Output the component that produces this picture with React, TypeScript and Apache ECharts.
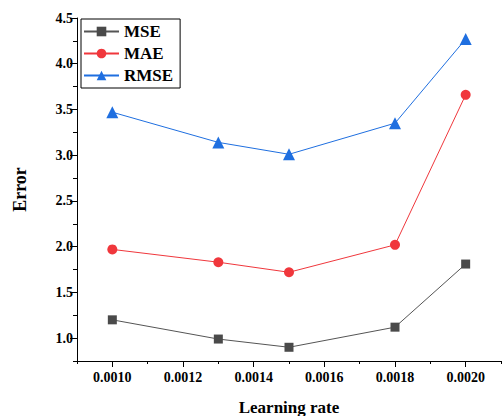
import React, { useEffect, useRef } from "react";
import * as echarts from "echarts";

const learningRates = [0.001, 0.0013, 0.0015, 0.0018, 0.002];
const mseValues = [1.2, 0.99, 0.9, 1.12, 1.81];
const maeValues = [1.97, 1.83, 1.72, 2.02, 3.66];
const rmseValues = [3.47, 3.14, 3.01, 3.35, 4.27];
const xMajorTicks = [0.001, 0.0012, 0.0014, 0.0016, 0.0018, 0.002];
const xMinorTicks = [0.0009, 0.0011, 0.0013, 0.0015, 0.0017, 0.0019, 0.0021];
const yMajorTicks = [1.0, 1.5, 2.0, 2.5, 3.0, 3.5, 4.0, 4.5];
const yMinorTicks = [0.75, 1.25, 1.75, 2.25, 2.75, 3.25, 3.75, 4.25];

const FONT = "'Liberation Serif', 'Times New Roman', serif";

export default function App() {
  const ref = useRef<HTMLDivElement>(null);
  useEffect(() => {
    if (!ref.current) return;
    const chart = echarts.init(ref.current, undefined, { renderer: "svg" });
    const pair = (vals: number[]) => learningRates.map((x, i) => [x, vals[i]]);
    chart.setOption({
      animation: false,
      backgroundColor: "#ffffff",
      grid: { left: 77, top: 18, right: 2, bottom: 55, containLabel: false, outerBoundsMode: "none" },
      legend: {
        orient: "vertical",
        left: 81,
        top: 19,
        itemWidth: 35,
        itemHeight: 12,
        itemGap: 5,
        padding: [4, 7, 4, 2],
        borderColor: "#000",
        borderWidth: 1,
        textStyle: { fontFamily: FONT, fontWeight: "bold", fontSize: 17, color: "#000" },
        data: ["MSE", "MAE", "RMSE"],
      },
      xAxis: [
        {
          type: "value",
          min: 0.0009,
          max: 0.0021,
          name: "Learning rate",
          nameLocation: "middle",
          nameGap: 38,
          nameTextStyle: { fontFamily: FONT, fontWeight: "bold", fontSize: 17, color: "#000" },
          axisLine: { show: true, lineStyle: { color: "#000", width: 1 } },
          axisTick: { show: true, customValues: xMajorTicks, length: 6, lineStyle: { color: "#000" } },
          axisLabel: {
            customValues: xMajorTicks,
            formatter: (v: number) => v.toFixed(4),
            fontFamily: FONT,
            fontWeight: "bold",
            fontSize: 14,
            color: "#000",
            margin: 9,
          },
          splitLine: { show: false },
        },
        {
          type: "value",
          min: 0.0009,
          max: 0.0021,
          position: "bottom",
          axisLine: { show: false },
          axisTick: { show: true, customValues: xMinorTicks, length: 3, lineStyle: { color: "#000" } },
          axisLabel: { show: false },
          splitLine: { show: false },
        },
      ],
      yAxis: [
        {
          type: "value",
          min: 0.75,
          max: 4.5,
          name: "Error",
          nameLocation: "middle",
          nameGap: 48,
          nameRotate: 90,
          nameTextStyle: { fontFamily: FONT, fontWeight: "bold", fontSize: 18, color: "#000" },
          axisLine: { show: true, lineStyle: { color: "#000", width: 1 } },
          axisTick: { show: true, customValues: yMajorTicks, length: 7, lineStyle: { color: "#000" } },
          axisLabel: {
            customValues: yMajorTicks,
            formatter: (v: number) => v.toFixed(1),
            fontFamily: FONT,
            fontWeight: "bold",
            fontSize: 14,
            color: "#000",
            margin: 4,
          },
          splitLine: { show: false },
        },
        {
          type: "value",
          min: 0.75,
          max: 4.5,
          position: "left",
          axisLine: { show: false },
          axisTick: { show: true, customValues: yMinorTicks, length: 4, lineStyle: { color: "#000" } },
          axisLabel: { show: false },
          splitLine: { show: false },
        },
      ],
      series: [
        {
          name: "MSE",
          type: "line",
          data: pair(mseValues),
          symbol: "rect",
          symbolSize: 9,
          color: "#4a4a4a",
          lineStyle: { width: 1, color: "#555" },
          itemStyle: { color: "#4a4a4a" },
        },
        {
          name: "MAE",
          type: "line",
          data: pair(maeValues),
          symbol: "circle",
          symbolSize: 10,
          color: "#f0373c",
          lineStyle: { width: 1, color: "#f0373c" },
          itemStyle: { color: "#f0373c" },
        },
        {
          name: "RMSE",
          type: "line",
          data: pair(rmseValues),
          symbol: "triangle",
          symbolSize: 12,
          color: "#1f6fe0",
          lineStyle: { width: 1, color: "#1f6fe0" },
          itemStyle: { color: "#1f6fe0" },
        },
      ],
    });
    return () => chart.dispose();
  }, []);
  return <div ref={ref} style={{ width: 503, height: 416, position: "absolute", left: 0, top: 0 }} />;
}
